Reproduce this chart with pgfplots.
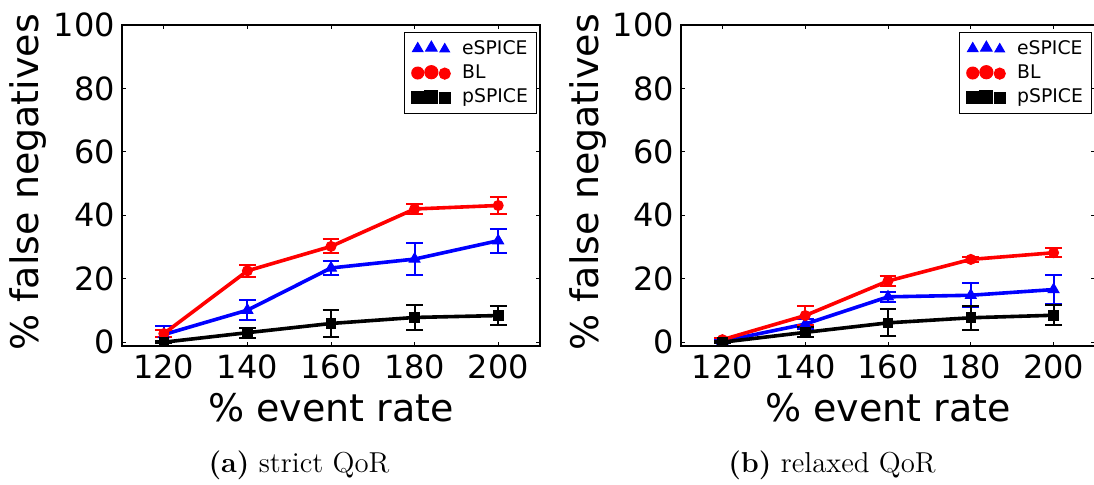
\documentclass[border=0pt]{standalone}
\usepackage{fontspec}
\usepackage{pgfplots}
\pgfplotsset{compat=1.18}
\newfontfamily\dejavu{DejaVu Sans}

\pgfplotsset{
  fnbase/.style={
    scale only axis,
    height=160.5pt,
    xmin=110, xmax=210,
    ymin=-1.2, ymax=100,
    xtick={120,140,160,180,200},
    ytick={0,20,40,60,80,100},
    tick align=inside,
    xtick pos=both, ytick pos=both,
    major tick length=2.2pt,
    tick style={black, line width=0.5pt},
    axis line style={line width=0.6pt},
    /pgf/number format/assume math mode=true,
    ticklabel style={font=\dejavu\fontsize{16}{18}\selectfont},
    xticklabel style={yshift=-1pt},
    label style={font=\dejavu\fontsize{19}{22}\selectfont},
    xlabel={\% event rate},
    ylabel={\% false negatives},
    xlabel style={at={(rel axis cs:0.5,0)}, anchor=base, yshift=-37.5pt},
    ylabel style={at={(rel axis cs:-0.225,0.51)}, anchor=center},
    legend style={at={(rel axis cs:1,1)}, xshift=-1.5pt, yshift=-3.5pt,
      anchor=north east, draw=black, line width=0.5pt,
      font=\dejavu\fontsize{9.4}{11}\selectfont,
      row sep=1.2pt, inner xsep=3pt, inner ysep=2.5pt,
      nodes={inner sep=1.3pt},
      /tikz/every odd column/.append style={column sep=4pt}},
    legend cell align=left,
    every axis plot/.append style={line width=1.8pt},
    error bars/error bar style={line width=1pt},
    error bars/error mark options={rotate=90, mark size=4.2pt, line width=1pt},
  },
  threemarks/.style={legend image code/.code={%
    \draw[##1, only marks, mark size=3.0pt] plot coordinates {(0pt,0pt)};
    \draw[##1, only marks, mark size=3.3pt] plot coordinates {(6.8pt,0.4pt)};
    \draw[##1, only marks, mark size=2.8pt] plot coordinates {(13.5pt,-0.3pt)};
    \path (16pt,0pt) (-2.5pt,0pt);}},
  esp/.style={threemarks, blue, mark=triangle*, mark size=3.1pt, mark options={solid, line width=0.5pt},
    error bars/.cd, y dir=both, y explicit},
  bl/.style={threemarks, red, mark=*, mark size=2.5pt, mark options={solid, line width=0.5pt},
    error bars/.cd, y dir=both, y explicit},
  psp/.style={threemarks, black, mark=square*, mark size=2.4pt, mark options={solid, line width=0.5pt},
    error bars/.cd, y dir=both, y explicit},
}

\begin{document}
\begin{tikzpicture}
\path[use as bounding box] (0,0) rectangle (547pt,242pt);

% (a) strict QoR
\begin{axis}[fnbase, width=209pt, at={(61pt,69pt)}, anchor=south west]
\addplot+[esp] coordinates {
  (120, 2.4) +- (0, 2.7)
  (140, 10.1) +- (0, 3.2)
  (160, 23.4) +- (0, 2.3)
  (180, 26.2) +- (0, 5.0)
  (200, 32.0) +- (0, 3.8)
};
\addlegendentry{eSPICE}
\addplot+[bl] coordinates {
  (120, 2.7) +- (0, 1.0)
  (140, 22.5) +- (0, 1.9)
  (160, 30.2) +- (0, 2.2)
  (180, 42.0) +- (0, 1.5)
  (200, 43.1) +- (0, 2.6)
};
\addlegendentry{BL}
\addplot+[psp] coordinates {
  (120, 0.0) +- (0, 0.3)
  (140, 3.0) +- (0, 1.6)
  (160, 5.9) +- (0, 4.3)
  (180, 7.8) +- (0, 3.8)
  (200, 8.4) +- (0, 3.0)
};
\addlegendentry{pSPICE}
\end{axis}

% (b) relaxed QoR
\begin{axis}[fnbase, width=207pt, at={(340.5pt,69pt)}, anchor=south west]
\addplot+[esp] coordinates {
  (120, 0.3) +- (0, 0.4)
  (140, 5.7) +- (0, 1.6)
  (160, 14.3) +- (0, 1.6)
  (180, 14.8) +- (0, 3.8)
  (200, 16.6) +- (0, 4.6)
};
\addlegendentry{eSPICE}
\addplot+[bl] coordinates {
  (120, 0.8) +- (0, 0.5)
  (140, 8.4) +- (0, 2.9)
  (160, 19.3) +- (0, 1.7)
  (180, 26.1) +- (0, 0.8)
  (200, 28.2) +- (0, 1.4)
};
\addlegendentry{BL}
\addplot+[psp] coordinates {
  (120, 0.0) +- (0, 0.3)
  (140, 3.1) +- (0, 1.6)
  (160, 6.1) +- (0, 4.3)
  (180, 7.7) +- (0, 3.8)
  (200, 8.5) +- (0, 3.2)
};
\addlegendentry{pSPICE}
\end{axis}

\node[font=\fontsize{14.4}{17}\selectfont] at (149.5pt,9.5pt) {\textbf{(a)} strict QoR};
\node[font=\fontsize{14.4}{17}\selectfont] at (416pt,9.5pt) {\textbf{(b)} relaxed QoR};
\end{tikzpicture}
\end{document}
